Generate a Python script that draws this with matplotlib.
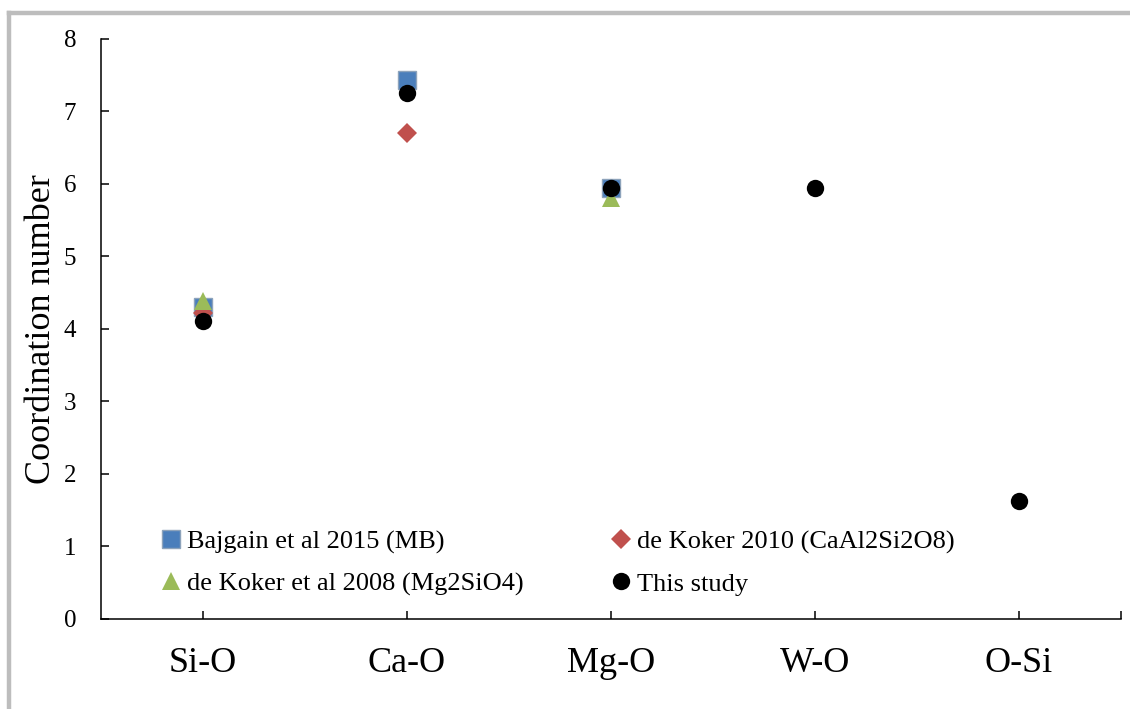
import numpy as np
import matplotlib
matplotlib.use("Agg")
import matplotlib.pyplot as plt
from matplotlib.lines import Line2D

plt.rcParams['font.family'] = ['Liberation Serif', 'DejaVu Serif']

# bond pairs on the x axis
categories = ['Si-O', 'Ca-O', 'Mg-O', 'W-O', 'O-Si']

# coordination numbers (nan = no value)
bajgain_2015 = [4.30, 7.43, 5.95, np.nan, np.nan]
dekoker_2010 = [4.22, 6.71, np.nan, np.nan, np.nan]
dekoker_2008 = [4.38, np.nan, 5.80, np.nan, np.nan]
this_study = [4.11, 7.26, 5.94, 5.95, 1.63]

y_ticks = [0, 1, 2, 3, 4, 5, 6, 7, 8]

fig = plt.figure(figsize=(11.3, 7.09), dpi=100)
ax = fig.add_axes([0.0894, 0.127, 0.9026, 0.818])

x = np.arange(len(categories))

sq, = ax.plot(x, bajgain_2015, linestyle='none', marker='s', markersize=12.5,
              color='#4a7ebb', markeredgecolor='#8da3bb', markeredgewidth=1,
              label='Bajgain et al 2015 (MB)')
dia, = ax.plot(x, dekoker_2010, linestyle='none', marker='D', markersize=10,
               color='#c0504d', markeredgewidth=0,
               label='de Koker 2010 (CaAl2Si2O8)')
tri, = ax.plot(x, dekoker_2008, linestyle='none', marker='^', markersize=13,
               color='#9bbb59', markeredgewidth=0,
               label='de Koker et al 2008 (Mg2SiO4)')
circ, = ax.plot(x, this_study, linestyle='none', marker='o', markersize=12.5,
                color='black', markeredgewidth=0, label='This study')

ax.set_xlim(-0.5, len(categories) - 0.5)
ax.set_ylim(0, 8)
ax.set_yticks(y_ticks)
ax.set_xticks(list(x) + [len(categories) - 0.5])
ax.set_xticklabels(categories + [''])

ax.spines['top'].set_visible(False)
ax.spines['right'].set_visible(False)
for s in ['left', 'bottom']:
    ax.spines[s].set_linewidth(1.1)

ax.tick_params(axis='y', direction='in', length=6, width=1.1, labelsize=18, pad=18)
ax.tick_params(axis='x', direction='in', length=6, width=1.1, labelsize=26, pad=20)

ax.set_ylabel('Coordination number', fontsize=26, labelpad=4)

ax.legend(handles=[sq, tri, dia, circ], ncol=2, loc='upper left',
          bbox_to_anchor=(0.045, 0.172), frameon=False, fontsize=19,
          handletextpad=0.1, handlelength=1.0, columnspacing=3.2,
          labelspacing=0.7, borderaxespad=0)

# grey frame of the original chart area
fig.add_artist(Line2D([0.008, 0.008], [0, 0.982], color='#bdbdbd', linewidth=3.2,
                      transform=fig.transFigure))
fig.add_artist(Line2D([0.008, 1.0], [0.982, 0.982], color='#bdbdbd', linewidth=3.2,
                      transform=fig.transFigure))

fig.savefig('out.png', dpi=100)
